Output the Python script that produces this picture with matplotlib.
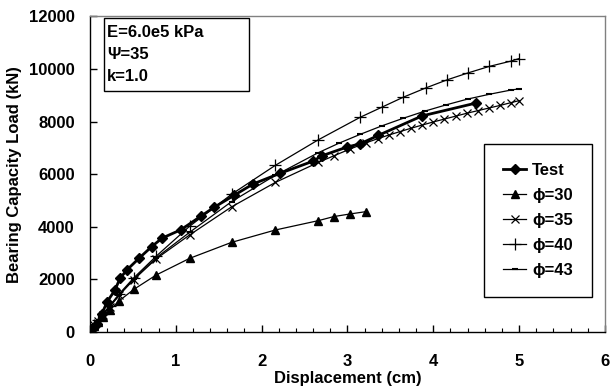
import matplotlib
matplotlib.use('Agg')
import matplotlib.pyplot as plt
from matplotlib.patches import Rectangle

plt.rcParams['font.family'] = ['Liberation Sans', 'DejaVu Sans']
plt.rcParams['font.weight'] = 'bold'

# displacement (cm) / load (kN)
test_x = [0, 0.02, 0.08, 0.14, 0.20, 0.29, 0.35, 0.43, 0.57, 0.72, 0.84, 1.06, 1.29, 1.45,
          1.68, 1.90, 2.21, 2.60, 2.70, 2.99, 3.15, 3.36, 3.87, 4.50]
test_y = [0, 100, 320, 700, 1150, 1590, 2040, 2360, 2800, 3250, 3570, 3890, 4400, 4750,
          5200, 5630, 6030, 6500, 6700, 7030, 7160, 7480, 8220, 8710]

phi30_x = [0, 0.02, 0.05, 0.09, 0.15, 0.23, 0.34, 0.51, 0.77, 1.16, 1.65, 2.16, 2.66, 2.84, 3.03, 3.22]
phi30_y = [0, 100, 230, 380, 580, 830, 1185, 1620, 2165, 2800, 3410, 3880, 4235, 4390, 4490, 4580]

phi35_x = [0, 0.02, 0.05, 0.09, 0.15, 0.23, 0.34, 0.51, 0.77, 1.16, 1.65, 2.16, 2.66, 2.84,
           3.03, 3.22, 3.35, 3.48, 3.61, 3.74, 3.87, 4.0, 4.13, 4.26, 4.39, 4.52, 4.65, 4.78, 4.9, 5.0]
phi35_y = [0, 100, 250, 420, 650, 950, 1400, 1990, 2780, 3690, 4760, 5690, 6450, 6700,
           6960, 7200, 7350, 7490, 7620, 7750, 7870, 7990, 8100, 8210, 8320, 8420, 8520, 8620, 8720, 8800]

phi40_x = [0, 0.02, 0.05, 0.09, 0.15, 0.23, 0.34, 0.51, 0.77, 1.16, 1.65, 2.16, 2.66, 3.15,
           3.4, 3.65, 3.91, 4.16, 4.4, 4.65, 4.9, 5.0]
phi40_y = [0, 100, 260, 440, 690, 1000, 1450, 2060, 2880, 4020, 5240, 6340, 7310, 8170,
           8550, 8930, 9280, 9590, 9850, 10100, 10300, 10400]

phi43_x = [0, 0.02, 0.05, 0.09, 0.15, 0.23, 0.34, 0.51, 0.77, 1.16, 1.65, 2.16, 2.66, 2.9,
           3.15, 3.4, 3.65, 3.9, 4.15, 4.4, 4.65, 4.9, 5.0]
phi43_y = [0, 100, 255, 430, 670, 975, 1420, 2010, 2820, 3790, 4960, 5960, 6820, 7180,
           7520, 7840, 8130, 8400, 8640, 8860, 9040, 9200, 9250]

fig = plt.figure(figsize=(6.1, 3.9), dpi=100)
ax = fig.add_axes([0.1475, 0.1487, 0.8443, 0.809])

ax.plot(test_x, test_y, color='black', lw=2.0, marker='D', ms=5, label='Test')
ax.plot(phi30_x, phi30_y, color='black', lw=0.9, marker='^', ms=6, label='ϕ=30')
ax.plot(phi35_x, phi35_y, color='black', lw=0.9, marker='x', ms=6, mew=0.9, label='ϕ=35')
ax.plot(phi40_x, phi40_y, color='black', lw=0.9, marker='+', ms=8, mew=0.9, label='ϕ=40')
ax.plot(phi43_x, phi43_y, color='black', lw=0.9, marker='_', ms=5, mew=1.5, label='ϕ=43')

ax.set_xlim(0, 6)
ax.set_ylim(0, 12000)
ax.set_xticks([0, 1, 2, 3, 4, 5, 6])
ax.set_xticks([i * 0.2 for i in range(31)], minor=True)
ax.set_yticks([0, 2000, 4000, 6000, 8000, 10000, 12000])
ax.tick_params(axis='x', which='major', direction='in', length=5, width=1, labelsize=12, pad=16)
ax.tick_params(axis='x', which='minor', direction='in', length=3, width=0.8)
ax.tick_params(axis='y', direction='in', length=5, width=1, labelsize=12, pad=11)

for s in ['left', 'bottom']:
    ax.spines[s].set_color('black')
    ax.spines[s].set_linewidth(1)
for s in ['top', 'right']:
    ax.spines[s].set_color('#808080')
    ax.spines[s].set_linewidth(1)

ax.set_xlabel('Displacement (cm)', fontsize=12, fontweight='bold', labelpad=1)
ax.set_ylabel('Bearing Capacity Load (kN)', fontsize=12, fontweight='bold', labelpad=5)

ax.add_patch(Rectangle((0.027, 0.764), 0.282, 0.231, transform=ax.transAxes,
                       fill=False, edgecolor='black', lw=1))
ax.text(0.033, 0.948, 'E=6.0e5 kPa', transform=ax.transAxes, fontsize=12, fontweight='bold', va='center')
ax.text(0.033, 0.879, 'Ψ=35', transform=ax.transAxes, fontsize=12, fontweight='bold', va='center')
ax.text(0.033, 0.810, 'k=1.0', transform=ax.transAxes, fontsize=12, fontweight='bold', va='center')

leg = ax.legend(loc='upper right', bbox_to_anchor=(0.975, 0.596), borderaxespad=0, fontsize=12,
                frameon=True, fancybox=False, edgecolor='black', framealpha=1,
                labelspacing=0.6, handlelength=1.4, handletextpad=0.35, borderpad=1.15)
leg.get_frame().set_linewidth(1)

plt.savefig('out.png', dpi=100)
plt.close()
